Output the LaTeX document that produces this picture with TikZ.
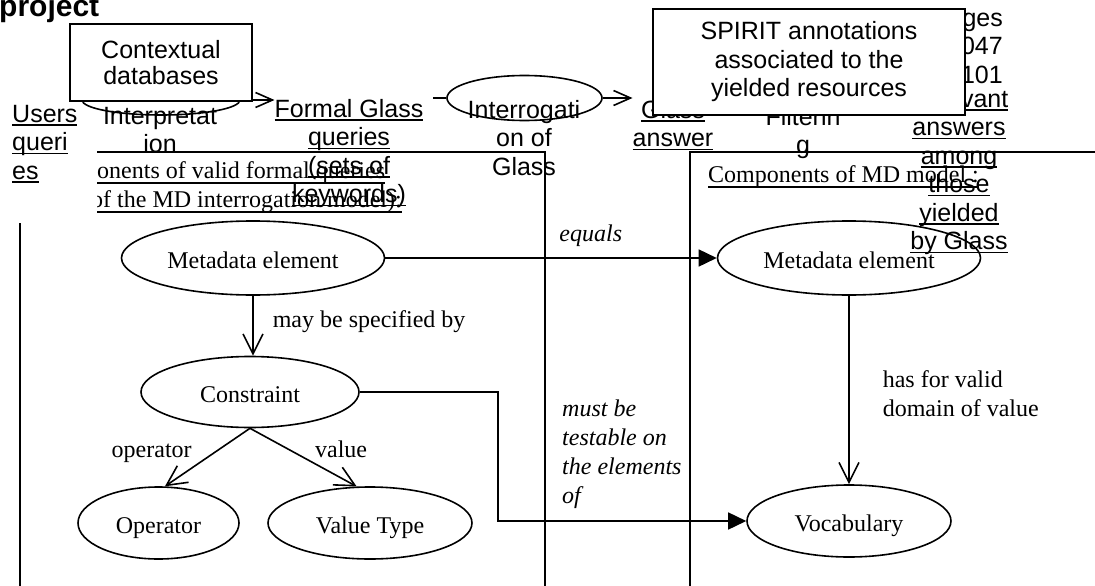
\documentclass[tikz,border=0pt]{standalone}
\usepackage{fontspec}
\setmainfont{Liberation Serif}
\newfontfamily\arialfont{Liberation Sans}
\usetikzlibrary{shapes.geometric,arrows.meta}
\newsavebox\ulbox
\newcommand\ulsans[1]{\sbox\ulbox{#1}\rlap{\rule[-3.9pt]{\wd\ulbox}{1.8pt}}\usebox\ulbox}
\newcommand\ulserif[1]{\sbox\ulbox{#1}\rlap{\rule[-5.9pt]{\wd\ulbox}{1.8pt}}\usebox\ulbox}
\begin{document}
\begin{tikzpicture}[x=1pt,y=-1pt,
    flow/.style={font=\arialfont\fontsize{25}{28.5}\selectfont,inner sep=0pt},
    md/.style={font=\fontsize{24}{28.7}\selectfont,inner sep=0pt},
    mdit/.style={font=\fontsize{24}{28.7}\selectfont\itshape,inner sep=0pt},
    oval/.style={draw,ellipse,line width=1.6pt,inner sep=0pt,text height=20pt,text depth=0pt},
    boxline/.style={line width=1.6pt},
    flowarrow/.style={line width=1.6pt,-{Straight Barb[length=17pt,width=15pt]}},
    barbbig/.style={-{Straight Barb[length=20pt,width=20pt]}},
    tri/.style={-{Triangle[length=18pt,width=17pt]}}]
  \useasboundingbox (0,0) rectangle (1095,586);

  \node[flow,font=\arialfont\bfseries\fontsize{30}{30}\selectfont,anchor=base west] (proj) at (-1,17) {project};

  \node[oval,minimum width=158pt,minimum height=30pt] (interp) at (161,100) {};
  \node[flow,align=center,anchor=base] (interptxt) at (160,152.5) {Interpretat\\ion};
  \node[flow,align=left,anchor=base west] (users) at (12,179) {\ulsans{Users}\\\ulsans{queri}\\\ulsans{es}};
  \node[flow,align=center,anchor=base] (fgq) at (349,202.5) {\ulsans{Formal Glass}\\\ulsans{queries}\\\ulsans{(sets of}\\\ulsans{keywords)}};
  \draw[flowarrow] (interp.east) -- (interp.east -| fgq.west);
  \node[flow,draw,fill=white,line width=1.6pt,minimum width=182pt,minimum height=77pt,align=center,
        font=\arialfont\fontsize{25}{26}\selectfont] (ctx) at (161,62.5) {Contextual\\databases};

  \node[oval,minimum width=155pt,minimum height=45pt] (interrog) at (524.5,98) {};
  \node[flow,align=center,anchor=base] (interrogtxt) at (524,175) {Interrogati\\on of\\Glass};
  \coordinate (fgqout) at (433,98);
  \draw[boxline] (fgqout) -- (interrog.west);
  \node[flow,align=center,anchor=base] (ga) at (673,146.5) {\ulsans{Glass}\\\ulsans{answer}};
  \draw[flowarrow] (interrog.east) -- (interrog.east -| ga.west);

  \node[flow,align=center,anchor=base] (filt) at (803,153.5) {Filterin\\g};
  \node[flow,align=center,anchor=base] (relev) at (959,249.5) {\ulsans{Relevant}\\\ulsans{answers}\\\ulsans{among}\\\ulsans{those}\\\ulsans{yielded}\\\ulsans{by Glass}};
  \node[flow,align=right,anchor=base east] (pages) at (1003,83) {ges\\047\\101};
  \node[flow,draw,fill=white,line width=1.6pt,minimum width=312pt,minimum height=106pt,align=center] (spirit) at (809,62) {SPIRIT annotations\\associated to the\\yielded resources};

  \draw[boxline] (97,152) -- (545,152) -- (545,586);
  \draw[boxline] (1095,152) -- (690,152) -- (690,586);
  \draw[boxline] (20,223) -- (20,586);
  \begin{scope}
    \clip (97,0) rectangle (545,586);
    \node[md,anchor=base west] (validq) at (97,178) {\ulserif{onents of valid formal queries}};
    \node[md,anchor=base west] (validm) at (91,207) {\ulserif{of the MD interrogation model):}};
  \end{scope}
  \node[md,anchor=base west] (mdcomp) at (708,182) {\ulserif{Components of MD model :}};

  \node[oval,md,minimum width=263pt,minimum height=74pt] (ml) at (253,258) {Metadata element};
  \node[oval,md,minimum width=263pt,minimum height=74pt] (mr) at (849,258) {Metadata element};
  \node[oval,md,minimum width=218pt,minimum height=71pt] (con) at (250,392) {Constraint};
  \node[oval,md,minimum width=161pt,minimum height=72pt] (op) at (158.5,523) {Operator};
  \node[oval,md,minimum width=204pt,minimum height=72pt] (vt) at (370,523) {Value Type};
  \node[oval,md,minimum width=204pt,minimum height=72pt] (voc) at (849,521) {Vocabulary};
  \coordinate (bend) at (498,392);

  \begin{scope}[line width=1.6pt]
    \draw[tri] (ml.east) -- (mr.west) node[mdit,pos=0.62,anchor=base,yshift=17pt] (lequals) {equals};
    \draw[barbbig] (ml.south) -- (ml.south |- con.north) node[md,midway,anchor=base west,xshift=19pt,yshift=-2pt] (lspec) {may be specified by};
    \draw[barbbig] (con.south) -- (op.80) node[md,midway,anchor=base east,xshift=-15pt] (lop) {operator};
    \draw[barbbig] (con.south) -- (vt.110) node[md,midway,anchor=base west,xshift=11pt] (lval) {value};
    \draw[barbbig] (mr.south) -- (voc.north) node[md,pos=0.64,anchor=base west,xshift=33pt,align=left] (ldom) {has for valid\\domain of value};
    \draw[tri] (con.east) -- (bend) |- (voc.west);
  \end{scope}
  \node[mdit,anchor=base west,align=left] (ltest) at (562,503) {must be\\testable on\\the elements\\of};
\end{tikzpicture}
\end{document}
